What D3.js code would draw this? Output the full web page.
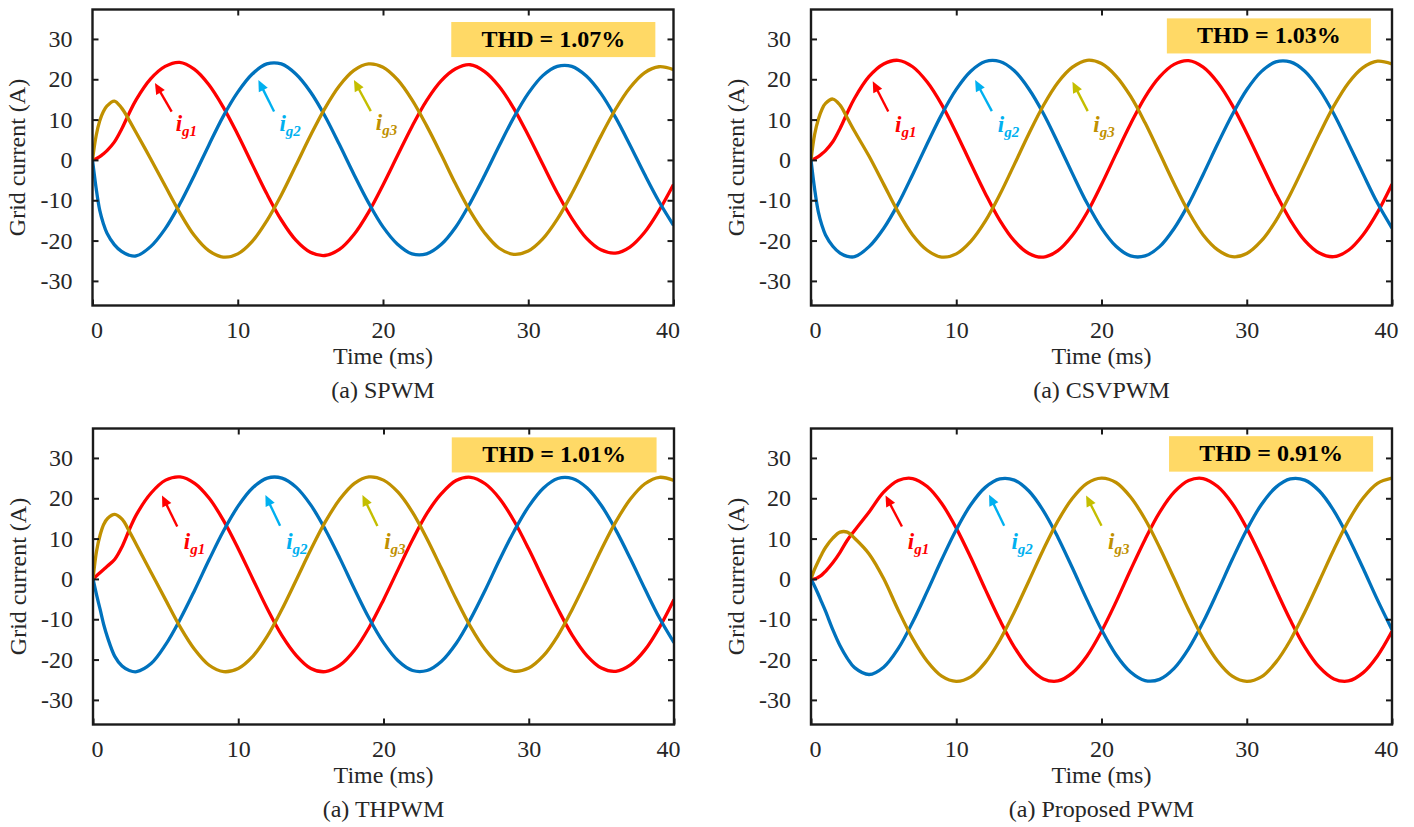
<!DOCTYPE html>
<html>
<head>
<meta charset="utf-8">
<script src="https://cdn.jsdelivr.net/npm/d3@7"></script>
<style>
    body { margin: 0; background: #fff; }
    svg { display: block; }
</style>
</head>
<body>
<div id="container"><svg></svg></div>
<script>
let width = 1414;
let height = 827;
let fontFamily = '"Liberation Serif", "Times New Roman", serif';

// sample times (ms)
let timeMs = [0, 0.25, 0.5, 0.75, 1, 1.5, 2, 2.5, 3,
    4, 5, 6, 7, 8, 9, 10, 11, 12, 13, 14, 15, 16, 17, 18, 19, 20, 21, 22,
    23, 24, 25, 26, 27, 28, 29, 30, 31, 32, 33, 34, 35, 36, 37, 38, 39, 40];

// grid currents (A)
let spwmIg1 = [0, 0.3, 0.8, 1.5, 2.3, 4.4, 7.6, 11.4, 14.9, 20.1, 23.2, 24.2, 22.5, 18.7, 13.1, 6.3, -1.1, -8.4, -14.9, -19.9, -22.9, -23.7, -22.2, -18.5, -13.0, -6.2, 1.1, 8.3, 14.7, 19.6, 22.6, 23.6, 21.9, 18.2, 12.8, 6.1, -1.1, -8.2, -14.5, -19.4, -22.3, -23.1, -21.6, -18.0, -12.6, -6.1];
let spwmIg2 = [0, -7.0, -12.5, -15.8, -18.2, -21.0, -22.7, -23.6, -23.8, -21.5, -17.1, -11.0, -3.9, 3.6, 10.8, 16.8, 21.3, 23.8, 23.8, 21.3, 16.9, 10.9, 3.8, -3.6, -10.6, -16.6, -20.9, -23.3, -23.3, -21.0, -16.7, -10.7, -3.8, 3.5, 10.5, 16.5, 20.9, 23.2, 23.2, 20.8, 16.5, 10.6, 3.7, -3.5, -10.3, -16.2];
let spwmIg3 = [0, 6.0, 9.7, 12.0, 13.4, 14.6, 12.9, 10.0, 6.8, 0.3, -6.4, -13.0, -18.7, -22.5, -24.1, -23.3, -20.2, -15.1, -8.7, -1.4, 6.0, 12.8, 18.4, 22.2, 23.8, 23.0, 19.9, 14.9, 8.5, 1.4, -6.0, -12.7, -18.1, -21.9, -23.4, -22.6, -19.6, -14.7, -8.4, -1.3, 5.9, 12.5, 17.9, 21.6, 23.1, 22.4];

let csvpwmIg1 = [0, 0.3, 0.8, 1.5, 2.3, 4.5, 7.8, 11.7, 15.3, 20.7, 23.8, 24.7, 23.1, 19.3, 13.7, 6.7, -0.9, -8.3, -15.0, -20.1, -23.2, -24.1, -22.5, -18.7, -13.1, -6.1, 1.5, 8.9, 15.6, 20.6, 23.7, 24.6, 23.0, 19.2, 13.6, 6.6, -0.9, -8.3, -14.9, -20.0, -23.1, -24.0, -22.4, -18.6, -13.0, -6.0];
let csvpwmIg2 = [0, -7.2, -12.8, -16.2, -18.6, -21.4, -23.1, -23.9, -24.0, -21.5, -17.0, -10.9, -3.6, 4.0, 11.3, 17.5, 22.0, 24.4, 24.4, 22.1, 17.6, 11.5, 4.2, -3.4, -10.7, -16.9, -21.4, -23.8, -23.8, -21.5, -17.0, -10.9, -3.6, 4.0, 11.2, 17.4, 21.9, 24.3, 24.3, 22.0, 17.5, 11.4, 4.1, -3.4, -10.7, -16.9];
let csvpwmIg3 = [0, 6.3, 10.0, 12.5, 14.0, 15.1, 13.6, 10.4, 7.1, 0.9, -6.0, -12.9, -18.6, -22.4, -24.1, -23.3, -20.2, -15.2, -8.6, -1.1, 6.5, 13.5, 19.2, 23.0, 24.7, 23.9, 20.8, 15.8, 9.2, 1.7, -5.9, -12.9, -18.6, -22.3, -24.0, -23.2, -20.1, -15.1, -8.5, -1.1, 6.4, 13.4, 19.1, 22.9, 24.5, 23.8];

let thpwmIg1 = [0, 0.8, 1.6, 2.4, 3.2, 4.9, 8.0, 12.2, 16.0, 21.3, 24.5, 25.3, 23.7, 20.0, 14.4, 7.5, 0.0, -7.4, -14.0, -19.0, -22.2, -23.0, -21.4, -17.7, -12.1, -5.2, 2.3, 9.7, 16.3, 21.2, 24.4, 25.2, 23.6, 19.9, 14.3, 7.4, -0.1, -7.4, -14.0, -19.0, -22.1, -22.9, -21.3, -17.6, -12.0, -5.1];
let thpwmIg2 = [0, -4.0, -7.7, -11.5, -14.5, -19.2, -21.6, -22.7, -23.0, -21.0, -16.3, -10.0, -2.8, 4.8, 12.0, 18.1, 22.6, 25.0, 25.0, 22.7, 18.3, 12.2, 5.1, -2.5, -9.7, -15.8, -20.3, -22.7, -22.7, -20.4, -16.0, -9.9, -2.8, 4.8, 11.9, 18.0, 22.5, 24.9, 24.9, 22.6, 18.2, 12.1, 5.0, -2.5, -9.7, -15.8];
let thpwmIg3 = [0, 7.0, 11.0, 13.6, 15.0, 16.0, 14.8, 11.8, 8.4, 1.6, -5.2, -11.9, -17.5, -21.4, -23.0, -22.2, -19.2, -14.2, -7.6, -0.2, 7.3, 14.2, 19.8, 23.7, 25.3, 24.5, 21.5, 16.5, 9.9, 2.5, -5.0, -11.9, -17.5, -21.3, -22.9, -22.1, -19.1, -14.1, -7.5, -0.2, 7.3, 14.2, 19.8, 23.6, 25.2, 24.4];

let proposedIg1 = [0, 0.0, 0.4, 1.0, 1.9, 4.0, 6.6, 9.6, 12.0, 16.6, 21.5, 24.4, 24.9, 22.9, 18.7, 12.6, 5.3, -2.6, -10.2, -16.9, -21.9, -24.8, -25.3, -23.3, -19.1, -13.0, -5.7, 2.2, 9.8, 16.5, 21.5, 24.4, 24.9, 22.9, 18.7, 12.6, 5.3, -2.6, -10.2, -16.9, -21.9, -24.8, -25.3, -23.3, -19.1, -13.0];
let proposedIg2 = [0, -1.8, -3.8, -5.9, -8.0, -12.6, -16.6, -19.7, -22.0, -23.7, -21.9, -17.3, -10.7, -3.1, 4.8, 12.2, 18.4, 22.7, 24.8, 24.5, 21.8, 16.9, 10.3, 2.7, -5.2, -12.6, -18.8, -23.1, -25.2, -24.9, -22.2, -17.3, -10.7, -3.1, 4.8, 12.2, 18.4, 22.7, 24.8, 24.5, 21.8, 16.9, 10.3, 2.7, -5.2, -12.6];
let proposedIg3 = [0, 2.4, 4.4, 6.2, 7.8, 10.1, 11.6, 11.6, 10.1, 6.2, 0.1, -7.7, -14.8, -20.4, -24.1, -25.4, -24.3, -20.7, -15.2, -8.2, -0.5, 7.3, 14.4, 20.0, 23.7, 25.0, 23.9, 20.3, 14.8, 7.8, 0.1, -7.7, -14.8, -20.4, -24.1, -25.4, -24.3, -20.7, -15.2, -8.2, -0.5, 7.3, 14.4, 20.0, 23.7, 25.0];

let panelTitles = ['(a) SPWM', '(a) CSVPWM', '(a) THPWM', '(a) Proposed PWM'];
let thdValues = ['1.07', '1.03', '1.01', '0.91'];
let phaseNames = ['g1', 'g2', 'g3'];
let xTicks = [0, 10, 20, 30, 40];
let yTicks = [-30, -20, -10, 0, 10, 20, 30];

let panelSeries = [
    [spwmIg1, spwmIg2, spwmIg3],
    [csvpwmIg1, csvpwmIg2, csvpwmIg3],
    [thpwmIg1, thpwmIg2, thpwmIg3],
    [proposedIg1, proposedIg2, proposedIg3]
];

// layout: panel origins, THD box and arrow annotations (data coords)
let plotW = 581, plotH = 296;
let origins = [[92.5, 9.5], [811, 9.5], [93, 428.5], [811, 428.5]];
let thdBox = [[24.7, 38.75, 34.2, 25.5], [24.5, 38.55, 35.1, 26.4], [24.7, 38.8, 35.1, 26.4], [24.65, 38.7, 35.4, 26.6]];
let arrows = [
    [[[4.3, 19.1], [5.45, 12.0], [5.73, 7.2]], [[11.42, 19.8], [12.5, 12.0], [12.87, 7.2]], [[18.0, 19.8], [19.16, 12.1], [19.5, 7.3]]],
    [[[4.25, 19.5], [5.32, 12.0], [5.79, 7.0]], [[11.3, 19.8], [12.45, 12.1], [12.86, 7.0]], [[18.0, 19.4], [19.05, 12.1], [19.44, 7.0]]],
    [[[4.75, 20.7], [5.8, 13.0], [6.25, 7.5]], [[11.87, 20.8], [12.88, 13.2], [13.3, 7.5]], [[18.55, 20.8], [19.58, 13.1], [20.05, 7.5]]],
    [[[5.13, 20.7], [6.26, 13.0], [6.66, 7.3]], [[12.26, 20.9], [13.3, 13.2], [13.8, 7.3]], [[18.94, 20.7], [20.0, 13.2], [20.45, 7.3]]]
];

let lineColors = ['#FF0000', '#0072BD', '#C09000'];
let arrowColors = ['#FF0000', '#00B0F0', '#C4BE00'];
let labelColors = ['#FF0000', '#00B0F0', '#C09000'];

let x = d3.scaleLinear().domain([0, 40]).range([0, plotW]);
let y = d3.scaleLinear().domain([-36.1, 37.3]).range([plotH, 0]);

function draw_panel(svg, p) {
    let g = svg.append('g')
        .attr('transform', `translate(${origins[p][0]}, ${origins[p][1]})`);

    g.append('clipPath')
        .attr('id', 'clip' + p)
        .append('rect')
        .attr('width', plotW)
        .attr('height', plotH);

    // waveforms
    let line = d3.line()
        .x((d, i) => x(timeMs[i]))
        .y(d => y(d))
        .curve(d3.curveCatmullRom.alpha(0.5));
    let lines = g.append('g').attr('clip-path', `url(#clip${p})`);
    panelSeries[p].forEach((s, k) => {
        lines.append('path')
            .attr('d', line(s))
            .attr('fill', 'none')
            .attr('stroke', lineColors[k])
            .attr('stroke-width', 3.3)
            .attr('stroke-linejoin', 'round');
    });

    // THD box
    let b = thdBox[p];
    g.append('rect')
        .attr('x', x(b[0]))
        .attr('y', y(b[2]))
        .attr('width', x(b[1]) - x(b[0]))
        .attr('height', y(b[3]) - y(b[2]))
        .attr('fill', '#FFD966');
    g.append('text')
        .attr('x', (x(b[0]) + x(b[1])) / 2)
        .attr('y', (y(b[2]) + y(b[3])) / 2 + 7.5)
        .attr('text-anchor', 'middle')
        .attr('font-family', fontFamily)
        .attr('font-weight', 'bold')
        .attr('font-size', 24)
        .attr('fill', '#000')
        .text(`THD = ${thdValues[p]}%`);

    // arrows + labels
    arrows[p].forEach((a, k) => {
        let tip = [x(a[0][0]), y(a[0][1])];
        let tail = [x(a[1][0]), y(a[1][1])];
        let dx = tip[0] - tail[0], dy = tip[1] - tail[1];
        let len = Math.sqrt(dx * dx + dy * dy);
        let ux = dx / len, uy = dy / len;
        let hl = 11, hw = 5;
        let base = [tip[0] - ux * hl, tip[1] - uy * hl];
        g.append('line')
            .attr('x1', tail[0]).attr('y1', tail[1])
            .attr('x2', base[0] + ux * 2).attr('y2', base[1] + uy * 2)
            .attr('stroke', arrowColors[k])
            .attr('stroke-width', 2.4);
        g.append('path')
            .attr('d', `M${tip[0]},${tip[1]} L${base[0] - uy * hw},${base[1] + ux * hw} L${base[0] + uy * hw},${base[1] - ux * hw} Z`)
            .attr('fill', arrowColors[k]);
        let t = g.append('text')
            .attr('x', x(a[2][0]))
            .attr('y', y(a[2][1]))
            .attr('font-family', fontFamily)
            .attr('font-weight', 'bold')
            .attr('font-style', 'italic')
            .attr('fill', labelColors[k]);
        t.append('tspan').attr('font-size', 23).text('i');
        t.append('tspan').attr('font-size', 15).attr('dy', 5).text(phaseNames[k]);
    });

    // axes, ticks pointing inward
    let gx = g.append('g')
        .attr('transform', `translate(0, ${plotH})`)
        .call(d3.axisBottom(x).tickValues(xTicks).tickSize(-6).tickPadding(15.5).tickFormat(d => String(d)));
    let gy = g.append('g')
        .call(d3.axisLeft(y).tickValues(yTicks).tickSize(-6).tickPadding(20).tickFormat(d => String(d)));
    g.append('g')
        .call(d3.axisTop(x).tickValues([10, 20, 30]).tickSize(-6).tickFormat(''));
    g.append('g')
        .attr('transform', `translate(${plotW}, 0)`)
        .call(d3.axisRight(y).tickValues(yTicks).tickSize(-6).tickFormat(''));
    g.selectAll('.domain').remove();
    g.selectAll('.tick line').attr('stroke', '#1a1a1a').attr('stroke-width', 2);
    [gx, gy].forEach(ax => {
        ax.attr('font-family', fontFamily)
            .attr('font-size', 24);
        ax.selectAll('text').attr('fill', '#262626');
    });
    gx.selectAll('.tick text').attr('dx', d => d === 0 ? 4 : (d === 40 ? -6 : 0));

    g.append('rect')
        .attr('width', plotW)
        .attr('height', plotH)
        .attr('fill', 'none')
        .attr('stroke', '#1a1a1a')
        .attr('stroke-width', 2.4);

    // axis labels and caption
    g.append('text')
        .attr('x', plotW / 2)
        .attr('y', plotH + 58.5)
        .attr('text-anchor', 'middle')
        .attr('font-family', fontFamily)
        .attr('font-size', 24)
        .attr('fill', '#262626')
        .text('Time (ms)');
    g.append('text')
        .attr('transform', `translate(-67.5, ${plotH / 2}) rotate(-90)`)
        .attr('text-anchor', 'middle')
        .attr('font-family', fontFamily)
        .attr('font-size', 24)
        .attr('fill', '#262626')
        .text('Grid current (A)');
    g.append('text')
        .attr('x', plotW / 2)
        .attr('y', plotH + 92.5)
        .attr('text-anchor', 'middle')
        .attr('font-family', fontFamily)
        .attr('font-size', 24)
        .attr('fill', '#262626')
        .text(panelTitles[p]);
}

function main() {
    let svg = d3.select('#container')
        .select('svg')
        .attr('width', width)
        .attr('height', height);
    svg.append('rect').attr('width', width).attr('height', height).attr('fill', '#fff');
    for (let p = 0; p < 4; p++) draw_panel(svg, p);
}

main()
</script>
</body>
</html>
